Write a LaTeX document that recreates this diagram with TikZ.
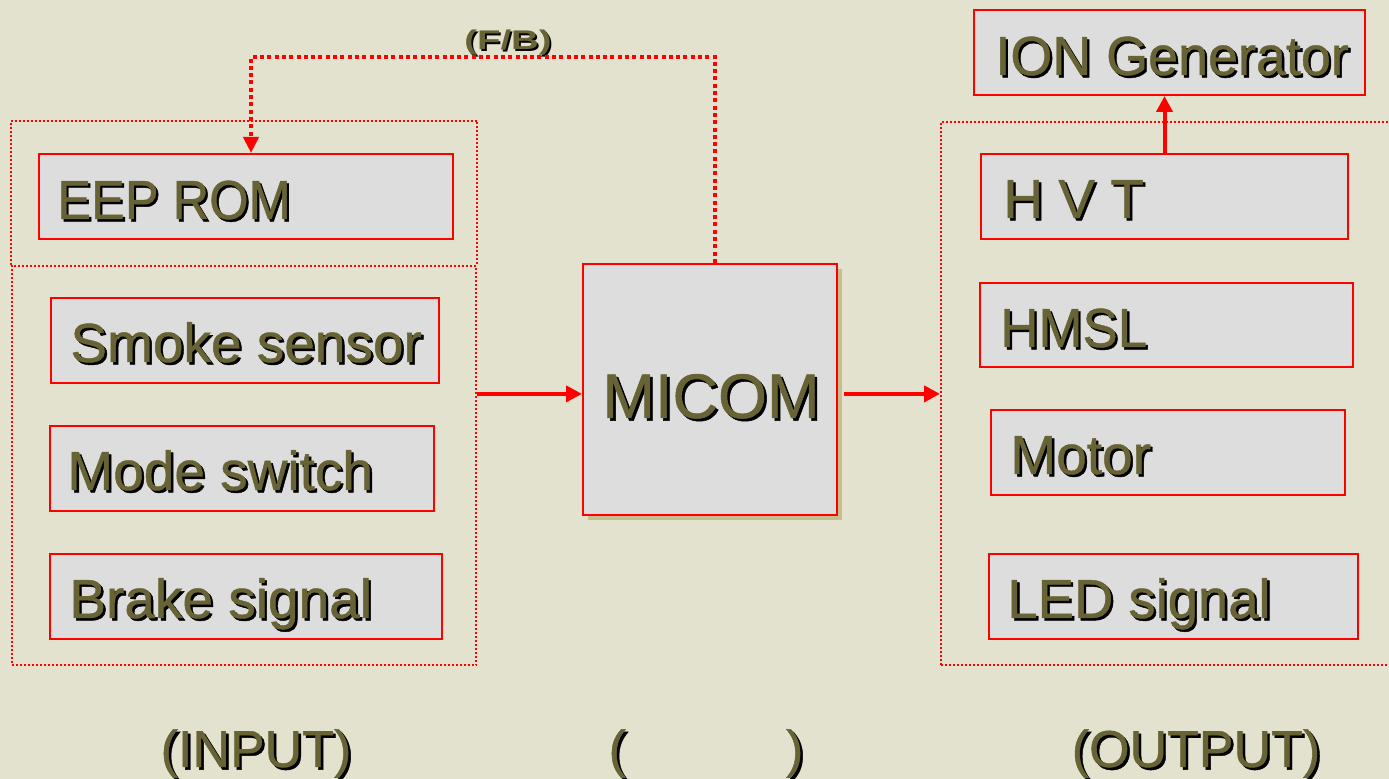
\documentclass[tikz,border=0pt]{standalone}
\usepackage{fontspec}
\setmainfont{Liberation Sans}
\newfontfamily\heavy{Liberation Sans}[FakeBold=0.8]
\usetikzlibrary{arrows.meta,shadows}
\definecolor{bgbeige}{RGB}{227,226,207}
\definecolor{boxgray}{RGB}{221,221,221}
\definecolor{olivetext}{RGB}{104,99,52}
\definecolor{shadowtan}{RGB}{198,191,140}
\newcommand{\shd}[2][1.2pt]{\rlap{\kern#1\raisebox{-#1}{\color{black}#2}}#2}
\begin{document}
\begin{tikzpicture}[x=0.5pt,y=-0.5pt,
  blk/.style={draw=red, fill=boxgray, line width=1pt, inner sep=0pt, anchor=north west, minimum height=42.5pt},
  lbl/.style={text=olivetext, font=\heavy\fontsize{27.5}{33}\selectfont, inner sep=0pt, anchor=base west},
  btm/.style={text=olivetext, font=\heavy\fontsize{26}{31}\selectfont, inner sep=0pt, anchor=base},
  grp/.style={draw=red, line width=1pt, dash pattern=on 1pt off 1pt, inner sep=0pt, anchor=north west},
  flow/.style={draw=red, line width=2pt, -{Triangle[length=8pt,width=8pt]}},
  fb/.style={draw=red, line width=2pt, dash pattern=on 2pt off 1.65pt, -{Triangle[length=8pt,width=7.5pt]}}
]
\fill[bgbeige] (0,0) rectangle (1389,779);
\useasboundingbox (0,0) rectangle (1389,779);

% dotted groups
\node[grp, minimum width=232.25pt, minimum height=199.75pt] (gin) at (10.5,265) {};
\draw[grp] (gin.north west) -- ++(0,-144) -- ([yshift=72pt]gin.north east) -- (gin.north east);
\node[grp, minimum width=235pt, minimum height=271.5pt] (gout) at (940,121) {};

% input boxes
\node[blk, minimum width=207pt] (eep) at (38,153) {};
\node[blk, minimum width=194pt] (smoke) at (50,297) {};
\node[blk, minimum width=192pt] (mode) at (49,425) {};
\node[blk, minimum width=196pt] (brake) at (49,553) {};

% MICOM
\node[blk, minimum width=127pt, minimum height=125.5pt,
      drop shadow={shadow xshift=2.5pt, shadow yshift=-2.5pt, fill=shadowtan, opacity=1}] (micom) at (582,263) {};

% output boxes
\node[blk, minimum width=195.5pt] (ion) at (973,9) {};
\node[blk, minimum width=183.5pt] (hvt) at (980,153) {};
\node[blk, minimum width=186.5pt, minimum height=42pt] (hmsl) at (979,282) {};
\node[blk, minimum width=177pt] (motor) at (990,409) {};
\node[blk, minimum width=184.5pt] (led) at (988,553) {};

% texts
\node[lbl] (teep) at (57,219) {\scalebox{0.92}[1]{\shd{EEP ROM}}};
\node[lbl] (tsmoke) at (70,362) {\shd{Smoke sensor}};
\node[lbl] (tmode) at (67,490) {\shd{Mode switch}};
\node[lbl] (tbrake) at (69,618) {\shd{Brake signal}};
\node[lbl, anchor=base, font=\heavy\fontsize{31.5}{38}\selectfont] (tmicom) at (711,418) {\shd[1.3pt]{MICOM}};
\node[lbl] (tion) at (995,75) {\scalebox{0.98}[1]{\shd{ION Generator}}};
\node[lbl] (thvt) at (1003,218) {\shd{H V T}};
\node[lbl] (thmsl) at (1000,347) {\scalebox{0.96}[1]{\shd{HMSL}}};
\node[lbl] (tmotor) at (1010,474) {\shd{Motor}};
\node[lbl] (tled) at (1007,618) {\scalebox{0.99}[1]{\shd{LED signal}}};

% bottom labels
\node[btm] (tin) at (256,767) {\shd[1.3pt]{(INPUT)}};
\node[btm] (tmid) at (706,767) {\shd[1.3pt]{(\hspace{80pt})}};
\node[btm] (tout) at (1196,767) {\shd[1.3pt]{(OUTPUT)}};

% F/B label
\node[text=olivetext, font=\fontsize{13.5}{16}\selectfont\bfseries, inner sep=0pt, anchor=base] (tfb) at (508,50) {\scalebox{1.42}[1]{\shd[0.6pt]{(F/B)}}};

% connectors
\coordinate (fbr) at (715,57);
\coordinate (fbl) at (251,57);
\draw[fb] (micom.north -| fbr) -- (fbr) -- (fbl) -- (eep.north -| fbl);
\draw[flow] ([yshift=-2.2pt]micom.west -| gin.east) -- ([yshift=-2.2pt]micom.west);
\draw[flow] ([xshift=3pt,yshift=-2.2pt]micom.east) -- ([yshift=-2.2pt]micom.east -| gout.west);
\draw[flow] (hvt.north) -- (hvt.north |- ion.south);
\end{tikzpicture}
\end{document}
